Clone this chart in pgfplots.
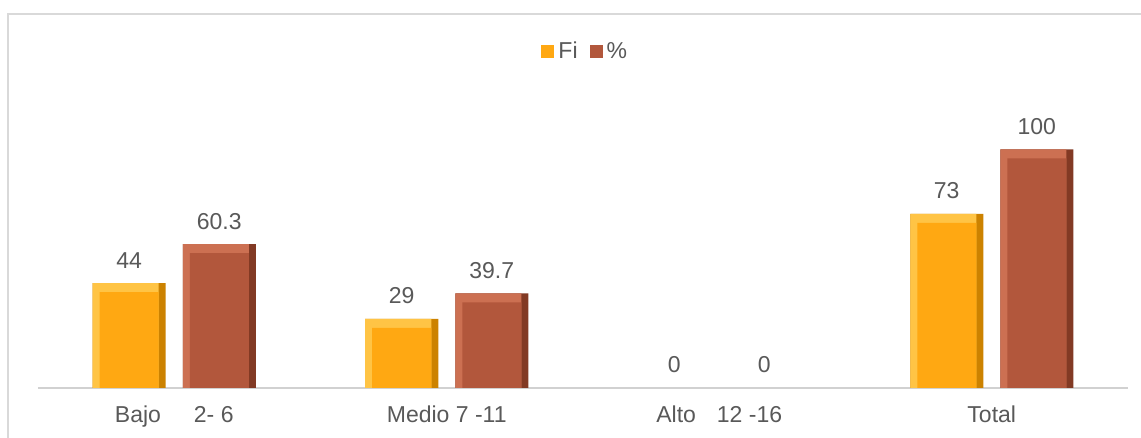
\documentclass[border=0pt]{standalone}
\usepackage{pgfplots}
\pgfplotsset{compat=1.18}
\usepackage{fontspec}
\setmainfont{Liberation Sans}
\definecolor{gold}{HTML}{FFA812}
\definecolor{goldtop}{HTML}{FFC445}
\definecolor{golddark}{HTML}{CC8200}
\definecolor{brownc}{HTML}{B2573C}
\definecolor{browntop}{HTML}{CC7052}
\definecolor{browndark}{HTML}{823A24}
\definecolor{txt}{HTML}{595959}
\begin{document}
\begin{tikzpicture}
\useasboundingbox (0,0) rectangle (570.5pt,219pt);
\fill[white] (0,0) rectangle (570.5pt,219pt);
\draw[black!15, line width=1pt] (4pt,0) -- (4pt,212pt) -- (570.5pt,212pt);
\begin{axis}[
  at={(19pt,25pt)}, anchor=south west,
  scale only axis, width=545pt, height=143.16pt,
  xmin=-0.5, xmax=3.5, ymin=0, ymax=120,
  hide y axis,
  axis x line*=bottom,
  x axis line style={black!18, line width=1pt, -},
  xtick={0,1,2,3},
  xticklabels={Bajo\hspace{16.5pt}2- 6, Medio 7 -11, Alto\hspace{10.5pt}12 -16, Total},
  major tick length=0pt,
  xticklabel style={anchor=base, yshift=-17.5pt, inner sep=0pt, text=txt, font=\fontsize{11.5pt}{13pt}\selectfont},
  ybar, bar width=36.5pt,
  /pgf/number format/assume math mode=true,
  every node near coord/.append style={anchor=base, yshift=7.5pt, inner sep=0pt, text=txt, font=\fontsize{11.5pt}{13pt}\selectfont},
  legend columns=2,
  legend style={at={(axis description cs:0.503,1.175)}, anchor=center, draw=none, fill=none,
    font=\fontsize{11.5pt}{13pt}\selectfont, text=txt,
    /tikz/every even column/.append style={column sep=4pt}},
  legend image code/.code={\fill[#1] (0pt,-3.4pt) rectangle (6.5pt,3.4pt);},
]
\addlegendimage{fill=gold, draw=none}
\addlegendimage{fill=brownc, draw=none}
% Fi: dark base (right/bottom edges), light left/top, main face
\addplot[forget plot, fill=golddark, draw=none, bar shift=-22.5pt, bar width=36.5pt]
  coordinates {(0,44) (1,29) (3,73)};
\addplot[forget plot, fill=goldtop, draw=none, bar shift=-24.25pt, bar width=33pt]
  coordinates {(0,44) (1,29) (3,73)};
\addplot[forget plot, fill=gold, draw=none, bar shift=-22.5pt, bar width=29.5pt, yshift=-4.5pt]
  coordinates {(0,44) (1,29) (3,73)};
\addplot[forget plot, fill=none, draw=none, bar shift=-22.5pt, bar width=36.5pt, nodes near coords]
  coordinates {(0,44) (1,29) (2,0) (3,73)};
% %: same layering
\addplot[forget plot, fill=browndark, draw=none, bar shift=22.5pt, bar width=36.5pt]
  coordinates {(0,60.3) (1,39.7) (3,100)};
\addplot[forget plot, fill=browntop, draw=none, bar shift=20.75pt, bar width=33pt]
  coordinates {(0,60.3) (1,39.7) (3,100)};
\addplot[forget plot, fill=brownc, draw=none, bar shift=22.5pt, bar width=29.5pt, yshift=-4.5pt]
  coordinates {(0,60.3) (1,39.7) (3,100)};
\addplot[forget plot, fill=none, draw=none, bar shift=22.5pt, bar width=36.5pt, nodes near coords]
  coordinates {(0,60.3) (1,39.7) (2,0) (3,100)};
\legend{Fi, \%}
\end{axis}
\end{tikzpicture}
\end{document}
